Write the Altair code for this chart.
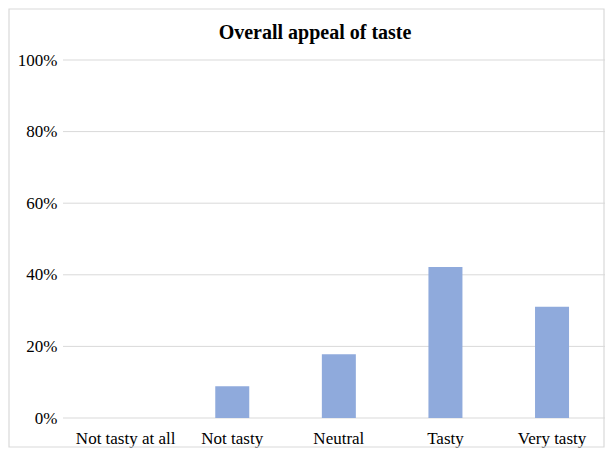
import altair as alt
import pandas as pd

categories = ["Not tasty at all", "Not tasty", "Neutral", "Tasty", "Very tasty"]
values = [0.0, 0.089, 0.178, 0.422, 0.311]
y_ticks = [0, 0.2, 0.4, 0.6, 0.8, 1.0]
title_text = "Overall appeal of taste"

df = pd.DataFrame({"category": categories, "value": values})
grid_df = pd.DataFrame({"tick": y_ticks})

W, H = 542, 358

y_scale = alt.Scale(domain=[0, 1])
y_axis = alt.Axis(format=".0%", values=y_ticks, ticks=False, domain=False, grid=False,
                  labelPadding=6, labelFont="Liberation Serif", labelFontSize=17,
                  labelColor="#000000")

grid = alt.Chart(grid_df).mark_rule(color="#D9D9D9", strokeWidth=1).encode(
    y=alt.Y("tick:Q", scale=y_scale, title=None, axis=y_axis),
    x=alt.value(0), x2=alt.value(W),
)

bars = alt.Chart(df).mark_bar(color="#8FAADC").encode(
    x=alt.X("category:N", sort=categories, title=None,
            scale=alt.Scale(paddingInner=0.681, paddingOuter=0.344, range=[9, 542.7]),
            axis=alt.Axis(labelAngle=0, ticks=False, domain=False, labelPadding=12,
                          labelFont="Liberation Serif", labelFontSize=17, labelColor="#000000")),
    y=alt.Y("value:Q", title=None, scale=y_scale, axis=y_axis),
)

border = alt.Chart(pd.DataFrame({"a": [0]})).mark_rect(
    fill=None, stroke="#D9D9D9", strokeWidth=1.2, clip=False
).encode(
    x=alt.value(-54), x2=alt.value(W - 1),
    y=alt.value(-51), y2=alt.value(H + 29),
)

title = alt.Chart(pd.DataFrame({"t": [title_text]})).mark_text(
    font="Liberation Serif", fontSize=20, fontWeight="bold", color="#000000",
    align="center", baseline="alphabetic", clip=False
).encode(
    text="t:N", x=alt.value(252), y=alt.value(-21),
)

chart = alt.layer(border, grid, bars, title).properties(
    width=W, height=H,
    autosize=alt.AutoSizeParams(type="none"),
    padding={"left": 55, "top": 52, "right": 0, "bottom": 30},
    background="white",
).configure_view(stroke=None)

chart.save("out.html", embed_options={"renderer": "svg", "actions": False})
